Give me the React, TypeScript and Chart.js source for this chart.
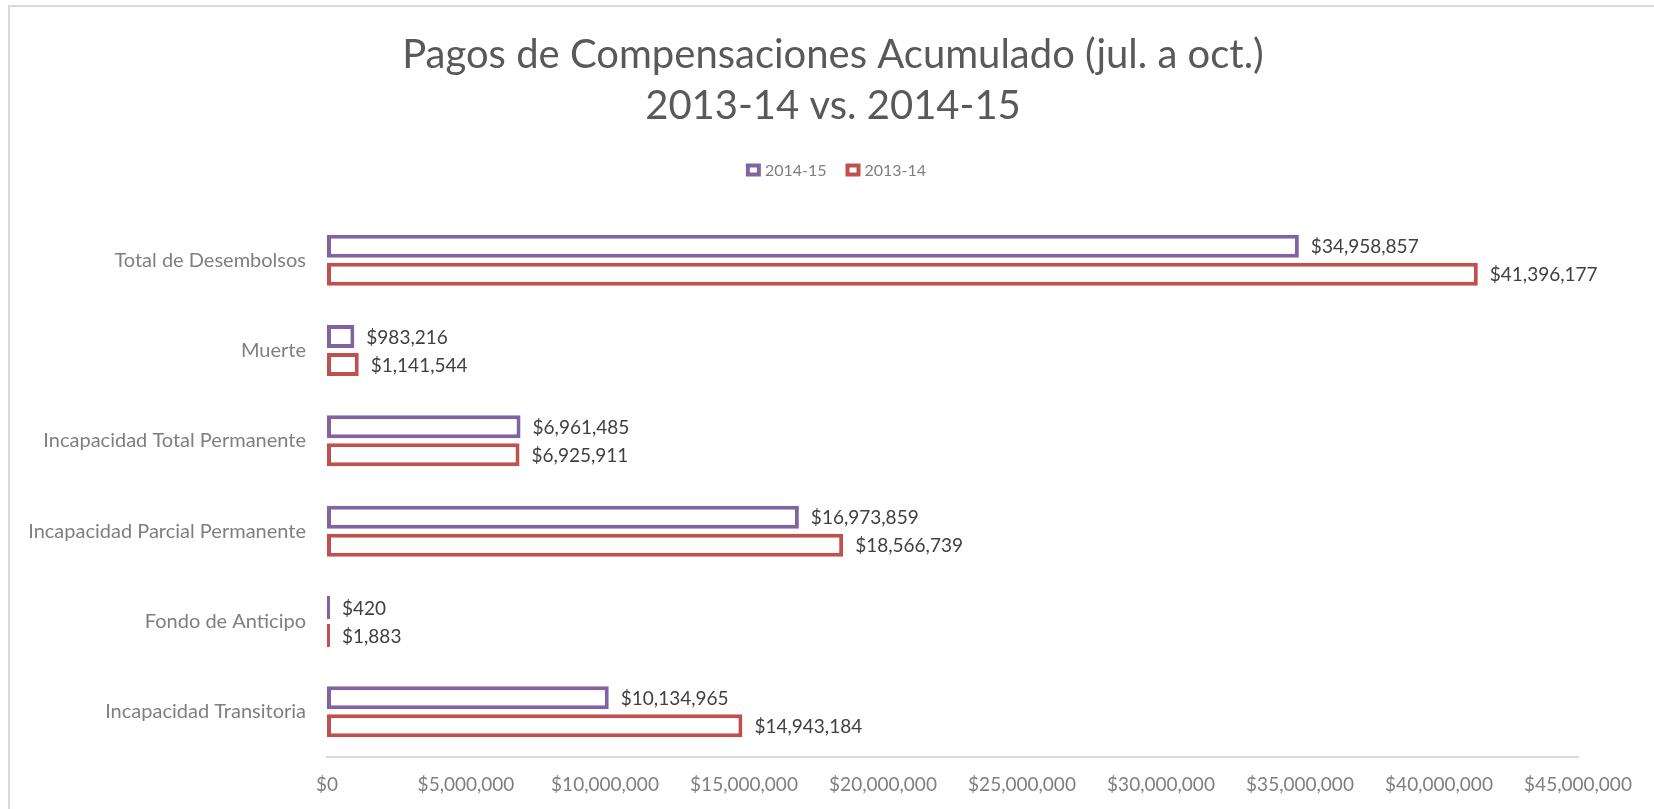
import React, { useEffect, useRef } from "react";
import { Chart, registerables } from "chart.js";

Chart.register(...registerables);

const categories = [
  "Total de Desembolsos",
  "Muerte",
  "Incapacidad Total Permanente",
  "Incapacidad Parcial Permanente",
  "Fondo de Anticipo",
  "Incapacidad Transitoria",
];
const series2014_15 = [34958857, 983216, 6961485, 16973859, 420, 10134965];
const series2013_14 = [41396177, 1141544, 6925911, 18566739, 1883, 14943184];
const seriesNames = ["2014-15", "2013-14"];
const titleLines = ["Pagos de Compensaciones Acumulado (jul. a oct.)", "2013-14 vs. 2014-15"];
const axisMin = 0;
const axisMax = 45000000;
const axisStep = 5000000;

const PURPLE = "#8064A2";
const RED = "#C0504D";
const FONT = "Lato, 'Noto Sans', sans-serif";

const fmt = (v: number) => "$" + Math.round(v).toLocaleString("en-US");

const titlePlugin = {
  id: "customTitle",
  afterDraw(chart: any) {
    const ctx = chart.ctx;
    ctx.save();
    ctx.fillStyle = "#595959";
    ctx.font = `400 40px ${FONT}`;
    ctx.textAlign = "center";
    ctx.textBaseline = "middle";
    const cx = 833;
    ctx.fillText(titleLines[0], cx, 55);
    ctx.fillText(titleLines[1], cx, 106);
    ctx.restore();
  },
};

const legendPlugin = {
  id: "customLegend",
  afterDraw(chart: any) {
    const ctx = chart.ctx;
    ctx.save();
    ctx.font = `16px ${FONT}`;
    ctx.textBaseline = "middle";
    ctx.textAlign = "left";
    const boxW = 15;
    const boxH = 13;
    const gapText = 4;
    const gapItem = 19;
    const items = chart.data.datasets.map((ds: any) => ({
      label: ds.label,
      color: ds.borderColor,
      w: ctx.measureText(ds.label).width,
    }));
    let total = 0;
    items.forEach((it: any, i: number) => {
      total += boxW + gapText + it.w + (i < items.length - 1 ? gapItem : 0);
    });
    let x = 836 - total / 2;
    const cy = 170;
    items.forEach((it: any) => {
      ctx.fillStyle = it.color;
      ctx.fillRect(x, cy - boxH / 2, boxW, boxH);
      ctx.fillStyle = "#ffffff";
      ctx.fillRect(x + 4, cy - boxH / 2 + 4, boxW - 8, boxH - 8);
      x += boxW + gapText;
      ctx.fillStyle = "#7f7f7f";
      ctx.fillText(it.label, x, cy + 1);
      x += it.w + gapItem;
    });
    ctx.restore();
  },
};

const dataLabelPlugin = {
  id: "dataLabels",
  afterDatasetsDraw(chart: any) {
    const ctx = chart.ctx;
    ctx.save();
    ctx.font = `19px ${FONT}`;
    ctx.fillStyle = "#404040";
    ctx.textAlign = "left";
    ctx.textBaseline = "middle";
    chart.data.datasets.forEach((ds: any, di: number) => {
      const meta = chart.getDatasetMeta(di);
      meta.data.forEach((el: any, i: number) => {
        ctx.fillText(fmt(ds.data[i]), el.x + 12, el.y + 1);
      });
    });
    ctx.restore();
  },
};

export default function App() {
  const ref = useRef<HTMLCanvasElement | null>(null);

  useEffect(() => {
    if (!ref.current) return;
    const chart = new Chart(ref.current, {
      type: "bar",
      data: {
        labels: categories,
        datasets: [
          {
            label: seriesNames[0],
            data: series2014_15,
            backgroundColor: "#ffffff",
            borderColor: PURPLE,
            borderWidth: 4,
            borderSkipped: false,
            minBarLength: 3,
            categoryPercentage: 0.62,
            barPercentage: 0.82,
          },
          {
            label: seriesNames[1],
            data: series2013_14,
            backgroundColor: "#ffffff",
            borderColor: RED,
            borderWidth: 4,
            borderSkipped: false,
            minBarLength: 3,
            categoryPercentage: 0.62,
            barPercentage: 0.82,
          },
        ],
      },
      options: {
        indexAxis: "y",
        responsive: false,
        animation: false,
        devicePixelRatio: 1,
        layout: { padding: { top: 215, right: 76, left: 0, bottom: 0 } },
        plugins: {
          legend: { display: false },
          title: { display: false },
          tooltip: { enabled: false },
        },
        scales: {
          x: {
            min: axisMin,
            max: axisMax,
            grid: { display: false, drawTicks: false },
            border: { display: true, color: "#d9d9d9", width: 2 },
            ticks: {
              stepSize: axisStep,
              padding: 16,
              color: "#7f7f7f",
              font: { family: FONT, size: 19 },
              callback: (v: any) => fmt(Number(v)),
            },
            afterFit: (s: any) => {
              s.height = 52;
            },
          },
          y: {
            grid: { display: false, drawTicks: false },
            border: { display: false },
            ticks: {
              padding: 21,
              color: "#7f7f7f",
              font: { family: FONT, size: 20 },
            },
            afterFit: (s: any) => {
              s.width = 327;
            },
          },
        },
      },
      plugins: [titlePlugin, legendPlugin, dataLabelPlugin],
    });
    return () => chart.destroy();
  }, []);

  return (
    <div style={{ position: "absolute", left: 0, top: 0, width: 1654, height: 809, background: "#ffffff" }}>
      <div
        style={{
          position: "absolute",
          left: 8,
          top: 5,
          width: 1654 - 8,
          height: 809 - 5,
          borderTop: "2px solid #d9d9d9",
          borderLeft: "2px solid #d9d9d9",
          boxSizing: "border-box",
        }}
      />
      <canvas ref={ref} width={1654} height={809} style={{ position: "absolute", left: 0, top: 0 }} />
    </div>
  );
}
